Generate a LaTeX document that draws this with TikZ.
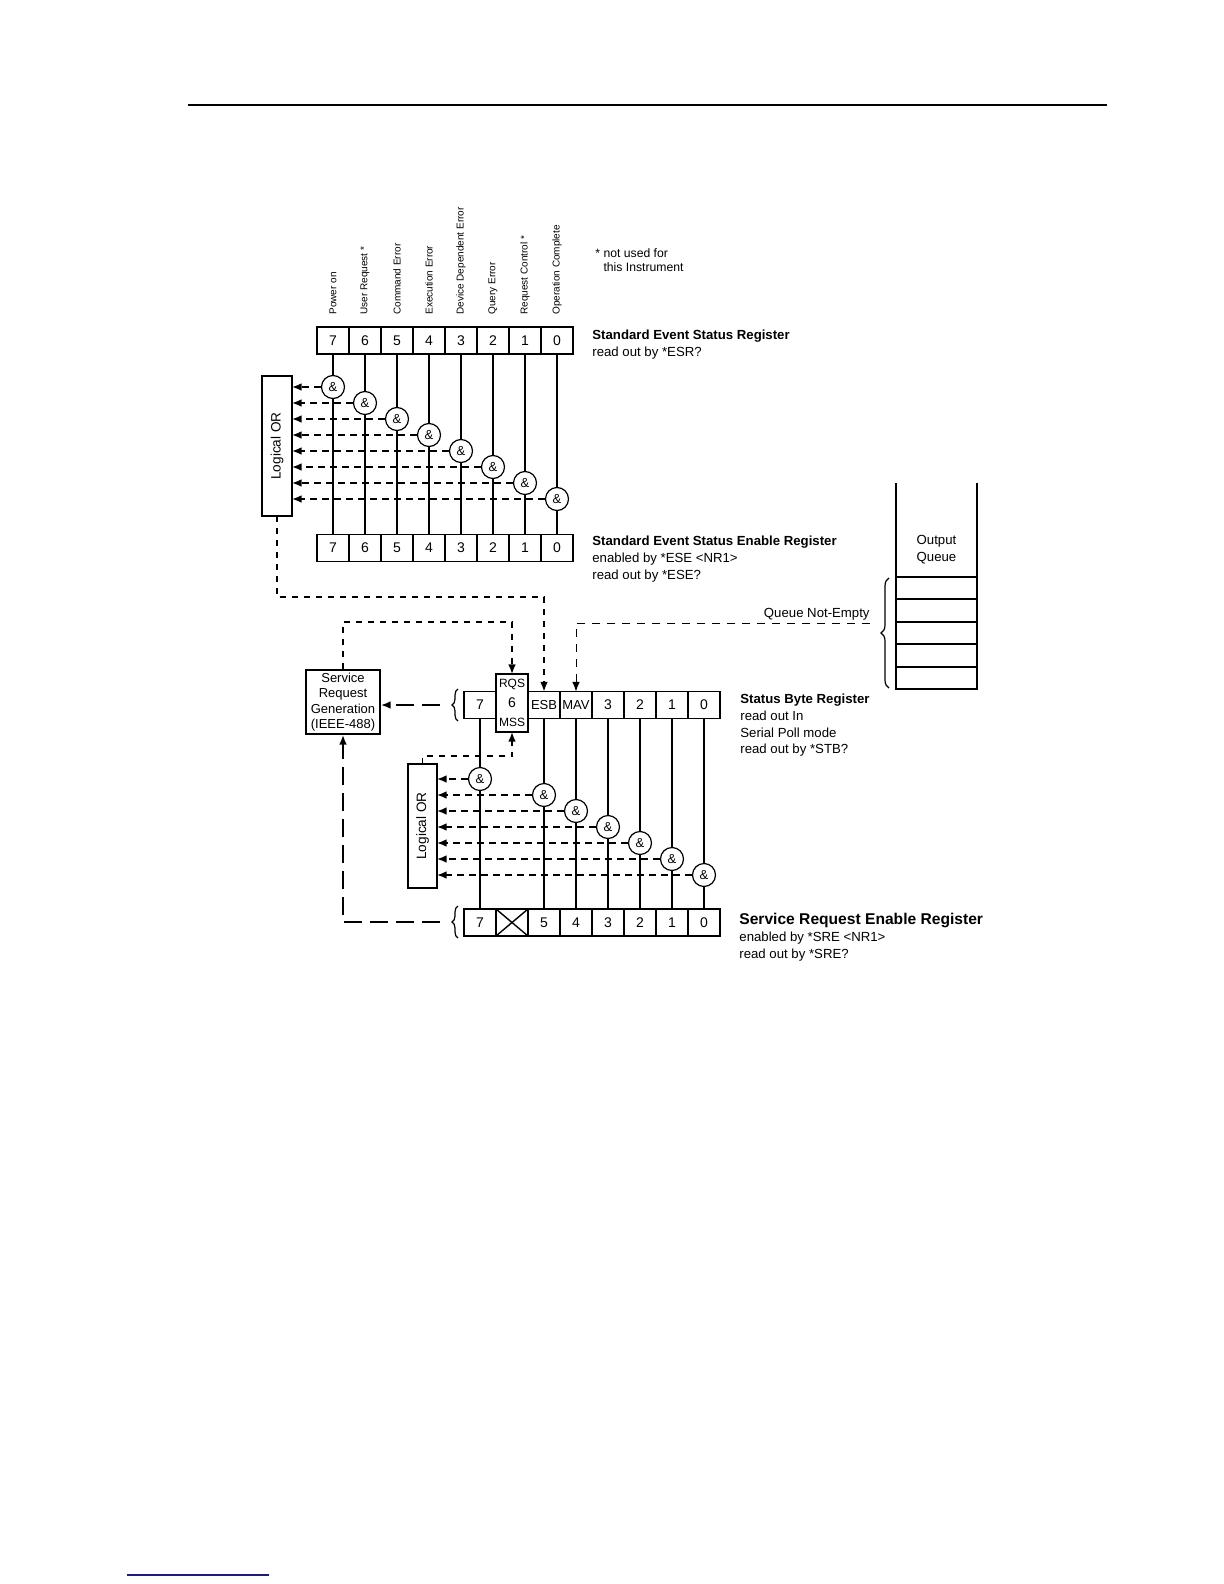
\documentclass[tikz,border=0pt]{standalone}
\usepackage{fontspec}
\setmainfont{Liberation Sans}
\usepackage{xcolor}
\usetikzlibrary{arrows.meta, positioning, calc, decorations.pathreplacing}
\definecolor{LinkNavy}{HTML}{1C1C80}

\begin{document}
\begin{tikzpicture}[x=0.5pt, y=-0.5pt, every node/.style={font=\fontsize{6.6}{8.4}\selectfont}]
  \tikzstyle{regcell}=[rectangle, draw, line width=0.9pt, minimum width=16pt, minimum height=13.5pt, inner sep=0pt, outer sep=0pt, font=\fontsize{7}{8}\selectfont]
  \tikzstyle{andgate}=[circle, draw, line width=0.6pt, minimum size=11.5pt, inner sep=0pt, fill=white, font=\fontsize{6.5}{7}\selectfont]
  \tikzstyle{orbox}=[rectangle, draw, line width=0.9pt, inner sep=0pt, outer sep=0pt]
  \tikzstyle{collbl}=[rotate=90, anchor=west, inner sep=0pt, font=\fontsize{5}{6}\selectfont]
  \tikzstyle{reglbl}=[anchor=north west, align=left, inner sep=0pt]
  \tikzstyle{wire}=[line width=0.6pt]
  \tikzstyle{orin}=[line width=0.7pt, dash pattern=on 3.5pt off 2.5pt, -{Latex[length=4.8pt,width=3.8pt]}]
  \tikzstyle{sig}=[line width=0.7pt, dash pattern=on 3pt off 3pt, -{Latex[length=4.8pt,width=3.8pt]}]
  \tikzstyle{qsig}=[line width=0.5pt, dash pattern=on 4pt off 3.5pt, -{Latex[length=4.8pt,width=3.8pt]}]
  \tikzstyle{longsig}=[line width=0.7pt, dash pattern=on 9pt off 4pt, -{Latex[length=4.8pt,width=3.8pt]}]
  \tikzstyle{brace}=[decorate, decoration={brace, amplitude=3pt}, line width=0.6pt]

  \useasboundingbox (0,0) rectangle (1224,1584);
  \draw[line width=0.8pt] (188,105) -- (1107,105);
  \draw[LinkNavy, line width=0.7pt] (127,1575) -- (269,1575);

  % standard event status register and its enable register
  \foreach \b in {7,...,0} {
    \node[regcell] (esr\b) at ({333+32*(7-\b)},340.5) {\b};
    \node[regcell] (ese\b) at ({333+32*(7-\b)},548) {\b};
    \node[andgate] (esand\b) at ({333+32*(7-\b)},{387+16*(7-\b)}) {\&};
    \draw[wire] (esr\b) -- (esand\b) (esand\b) -- (ese\b);
  }
  \foreach \b/\lbl in {7/Power on, 6/User Request *, 5/Command Error, 4/Execution Error, 3/Device Dependent Error, 2/Query Error, 1/Request Control *, 0/Operation Complete}
    \node[collbl] (col\b) at ([yshift=6pt]esr\b.north) {\lbl};
  \node[reglbl, font=\fontsize{6.1}{7}\selectfont] (note) at (595,248) {* not used for\\\hphantom{*\ }this Instrument};

  \node[orbox, minimum width=15pt, minimum height=70pt] (esor) at (277,446) {};
  \node[rotate=90, font=\fontsize{6.8}{8}\selectfont] (esortxt) at (esor) {Logical OR};
  \foreach \b in {7,...,0}
    \draw[orin] (esand\b.west) -- (esand\b.west -| esor.east);

  \node[reglbl] (esrlbl) at ([xshift=9.5pt,yshift=-1.5pt]esr0.north east) {\textbf{Standard Event Status Register}\\read out by *ESR?};
  \node[reglbl] (eselbl) at ([xshift=9.5pt,yshift=-0.5pt]ese0.north east) {\textbf{Standard Event Status Enable Register}\\enabled by *ESE <NR1>\\read out by *ESE?};

  % output queue
  \draw[line width=0.8pt] (896,483) -- (896,689) -- (977,689) -- (977,483);
  \foreach \y in {577,599,622,644,667}
    \draw[line width=0.8pt] (896,\y) -- (977,\y);
  \node[align=center] (oqtxt) at (936.5,549.5) {Output\\Queue};
  \draw[brace, decoration={amplitude=4pt}] (889,688) -- (889,578);

  % status byte register
  \node[regcell] (sb7) at (480,705) {7};
  \node[regcell, minimum height=29pt, align=center, font=\fontsize{6}{9.7}\selectfont] (rqs) at (512,703) {RQS\\{\fontsize{7}{8}\selectfont 6}\\MSS};
  \node[regcell, font=\fontsize{6.5}{8}\selectfont] (sbesb) at (544,705) {ESB};
  \node[regcell, font=\fontsize{6.5}{8}\selectfont] (sbmav) at (576,705) {MAV};
  \foreach \b in {3,...,0}
    \node[regcell] (sb\b) at ({608+32*(3-\b)},705) {\b};
  \node[reglbl] (sblbl) at ([xshift=10pt,yshift=-1pt]sb0.north east) {\textbf{Status Byte Register}\\read out In\\Serial Poll mode\\read out by *STB?};
  \draw[brace] (458,721) -- (458,689);
  \coordinate (sbtip) at (440,705);

  \node[rectangle, draw, line width=1pt, minimum width=37pt, minimum height=32pt, inner sep=0pt, align=center, font=\fontsize{6.5}{7.7}\selectfont] (srg) at (343,702) {Service\\Request\\Generation\\(IEEE-488)};

  % service request enable register
  \foreach \b in {7,...,0}
    \node[regcell] (sre\b) at ({480+32*(7-\b)},922.5) {\ifnum\b=6\else\b\fi};
  \draw[line width=0.7pt] (sre6.north west) -- (sre6.south east) (sre6.north east) -- (sre6.south west);
  \node[reglbl] (srelbl) at ([xshift=9.5pt,yshift=-2pt]sre0.north east) {{\fontsize{7.8}{8.4}\selectfont\bfseries Service Request Enable Register}\\enabled by *SRE <NR1>\\read out by *SRE?};
  \draw[brace] (458,938) -- (458,906);
  \coordinate (sretip) at (440,922);

  \node[orbox, minimum width=14.5pt, minimum height=62pt] (sbor) at (422.5,826) {};
  \node[rotate=90, font=\fontsize{6.8}{8}\selectfont] (sbortxt) at (sbor) {Logical OR};

  \foreach \b/\src [count=\k from 0] in {7/sb7, 5/sbesb, 4/sbmav, 3/sb3, 2/sb2, 1/sb1, 0/sb0} {
    \node[andgate] (sband\b) at ({480+32*(7-\b)},{779+16*\k}) {\&};
    \draw[wire] (\src) -- (sband\b) (sband\b) -- (sre\b);
    \draw[orin] (sband\b.west) -- (sband\b.west -| sbor.east);
  }

  % signal routing
  \draw[sig] (esor.south) -- ++(0,81) -| (sbesb.north);
  \draw[sig] (srg.north) -- ++(0,-47) -| (rqs.north);
  \draw[sig] (sbor.north) -- ++(0,-8) -| (rqs.south);
  \coordinate (qne) at (870,623);
  \draw[qsig] (qne) -| (sbmav.north);
  \node[anchor=base east, inner sep=0pt] (qnelbl) at (870,617.5) {Queue Not-Empty};
  \draw[longsig] (sbtip) -- (sbtip -| srg.east);
  \draw[longsig] (sretip) -| (srg.south);
\end{tikzpicture}
\end{document}
